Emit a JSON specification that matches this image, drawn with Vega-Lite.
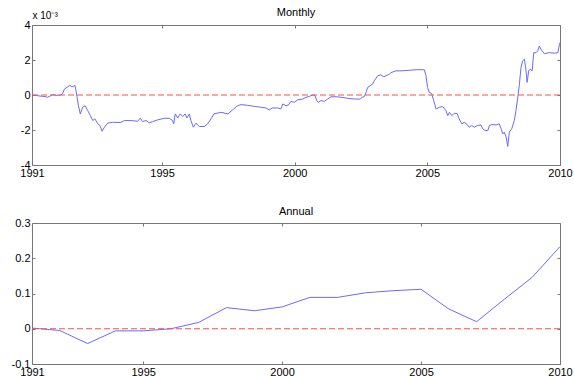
{
  "$schema": "https://vega.github.io/schema/vega-lite/v6.json",
  "background": "white",
  "padding": {"left": 1, "top": 6, "right": 1, "bottom": 0},
  "spacing": 26,
  "config": {
    "font": "Liberation Sans",
    "view": {"stroke": "#777777", "strokeWidth": 1},
    "axis": {"grid": false, "domain": false, "tickColor": "#777777", "tickSize": -3, "labelFont": "Liberation Sans", "labelFontSize": 11, "labelColor": "#000000", "labelPadding": 5, "labelFlush": false, "labelOverlap": false},
    "axisY": {"minExtent": 30, "maxExtent": 30},
    "title": {"font": "Liberation Sans", "fontSize": 11, "fontWeight": "normal", "color": "#000000"}
  },
  "datasets": {
    "monthly": [
      {"year": 1990.13, "value": 0}, {"year": 1990.31, "value": -0.04}, {"year": 1990.50, "value": -0.08}, {"year": 1990.63, "value": -0.1},
      {"year": 1990.69, "value": -0.13}, {"year": 1990.79, "value": -0.05}, {"year": 1990.88, "value": 0.02}, {"year": 1991.00, "value": -0.02},
      {"year": 1991.19, "value": 0}, {"year": 1991.26, "value": 0.1}, {"year": 1991.32, "value": 0.34}, {"year": 1991.45, "value": 0.47},
      {"year": 1991.53, "value": 0.55}, {"year": 1991.60, "value": 0.47}, {"year": 1991.67, "value": 0.5}, {"year": 1991.72, "value": 0.55},
      {"year": 1991.76, "value": 0.24}, {"year": 1991.80, "value": -0.13}, {"year": 1991.85, "value": -0.61}, {"year": 1991.92, "value": -1.08},
      {"year": 1992.01, "value": -0.7}, {"year": 1992.10, "value": -0.61}, {"year": 1992.20, "value": -0.89}, {"year": 1992.30, "value": -1.18},
      {"year": 1992.39, "value": -1.46}, {"year": 1992.47, "value": -1.36}, {"year": 1992.58, "value": -1.65}, {"year": 1992.66, "value": -1.74},
      {"year": 1992.74, "value": -2.07}, {"year": 1992.83, "value": -1.84}, {"year": 1992.95, "value": -1.61}, {"year": 1993.14, "value": -1.56},
      {"year": 1993.45, "value": -1.57}, {"year": 1993.58, "value": -1.46}, {"year": 1993.83, "value": -1.46}, {"year": 1994.08, "value": -1.5},
      {"year": 1994.18, "value": -1.33}, {"year": 1994.27, "value": -1.52}, {"year": 1994.40, "value": -1.46}, {"year": 1994.52, "value": -1.59},
      {"year": 1994.65, "value": -1.52}, {"year": 1994.84, "value": -1.42}, {"year": 1995.09, "value": -1.33}, {"year": 1995.27, "value": -1.33},
      {"year": 1995.40, "value": -1.46}, {"year": 1995.44, "value": -1.65}, {"year": 1995.50, "value": -1.08}, {"year": 1995.59, "value": -1.31},
      {"year": 1995.69, "value": -1.08}, {"year": 1995.78, "value": -1.23}, {"year": 1995.87, "value": -1.08}, {"year": 1995.94, "value": -1.31},
      {"year": 1996.03, "value": -1.08}, {"year": 1996.09, "value": -1.46}, {"year": 1996.18, "value": -1.84}, {"year": 1996.28, "value": -1.61},
      {"year": 1996.41, "value": -1.8}, {"year": 1996.59, "value": -1.8}, {"year": 1996.72, "value": -1.65}, {"year": 1996.85, "value": -1.36},
      {"year": 1996.96, "value": -1.08}, {"year": 1997.22, "value": -0.99}, {"year": 1997.49, "value": -1.08}, {"year": 1997.66, "value": -0.85},
      {"year": 1997.85, "value": -0.61}, {"year": 1997.98, "value": -0.55}, {"year": 1998.23, "value": -0.59}, {"year": 1998.48, "value": -0.65},
      {"year": 1998.73, "value": -0.7}, {"year": 1998.92, "value": -0.74}, {"year": 1999.04, "value": -0.85}, {"year": 1999.17, "value": -0.74},
      {"year": 1999.36, "value": -0.74}, {"year": 1999.48, "value": -0.8}, {"year": 1999.55, "value": -0.51}, {"year": 1999.67, "value": -0.61},
      {"year": 1999.76, "value": -0.58}, {"year": 1999.86, "value": -0.36}, {"year": 1999.99, "value": -0.42}, {"year": 2000.11, "value": -0.28},
      {"year": 2000.30, "value": -0.23}, {"year": 2000.43, "value": -0.13}, {"year": 2000.55, "value": -0.08}, {"year": 2000.68, "value": 0},
      {"year": 2000.77, "value": -0.04}, {"year": 2000.83, "value": -0.32}, {"year": 2000.89, "value": -0.42}, {"year": 2000.99, "value": -0.32},
      {"year": 2001.12, "value": -0.36}, {"year": 2001.24, "value": -0.23}, {"year": 2001.37, "value": -0.1}, {"year": 2001.56, "value": -0.1},
      {"year": 2001.75, "value": -0.13}, {"year": 2002.00, "value": -0.19}, {"year": 2002.25, "value": -0.23}, {"year": 2002.47, "value": -0.23},
      {"year": 2002.54, "value": -0.13}, {"year": 2002.62, "value": -0.1}, {"year": 2002.69, "value": 0.15}, {"year": 2002.75, "value": 0.43},
      {"year": 2002.85, "value": 0.53}, {"year": 2002.94, "value": 0.63}, {"year": 2003.00, "value": 0.81}, {"year": 2003.13, "value": 1.1},
      {"year": 2003.25, "value": 1.15}, {"year": 2003.36, "value": 1.04}, {"year": 2003.44, "value": 1.1}, {"year": 2003.57, "value": 1.19},
      {"year": 2003.63, "value": 1.28}, {"year": 2003.82, "value": 1.38}, {"year": 2004.01, "value": 1.38}, {"year": 2004.38, "value": 1.42},
      {"year": 2004.64, "value": 1.45}, {"year": 2004.89, "value": 1.44}, {"year": 2004.95, "value": 1.1}, {"year": 2005.01, "value": 0.43},
      {"year": 2005.07, "value": 0.15}, {"year": 2005.16, "value": 0.09}, {"year": 2005.24, "value": -0.32}, {"year": 2005.33, "value": -0.8},
      {"year": 2005.45, "value": -0.7}, {"year": 2005.58, "value": -0.66}, {"year": 2005.70, "value": -0.89}, {"year": 2005.77, "value": -1.18},
      {"year": 2005.83, "value": -0.99}, {"year": 2005.92, "value": -1.18}, {"year": 2006.02, "value": -1.05}, {"year": 2006.12, "value": -1.05},
      {"year": 2006.20, "value": -1.36}, {"year": 2006.30, "value": -1.65}, {"year": 2006.39, "value": -1.56}, {"year": 2006.50, "value": -1.69},
      {"year": 2006.58, "value": -1.84}, {"year": 2006.67, "value": -1.74}, {"year": 2006.77, "value": -1.84}, {"year": 2006.90, "value": -1.74},
      {"year": 2007.02, "value": -1.71}, {"year": 2007.09, "value": -1.93}, {"year": 2007.17, "value": -2.03}, {"year": 2007.28, "value": -2.03},
      {"year": 2007.34, "value": -1.74}, {"year": 2007.44, "value": -1.69}, {"year": 2007.59, "value": -1.71}, {"year": 2007.71, "value": -1.65},
      {"year": 2007.78, "value": -1.93}, {"year": 2007.84, "value": -2.22}, {"year": 2007.90, "value": -2.12}, {"year": 2007.97, "value": -2.41},
      {"year": 2008.03, "value": -2.94}, {"year": 2008.09, "value": -2.12}, {"year": 2008.18, "value": -1.93}, {"year": 2008.28, "value": -1.46},
      {"year": 2008.34, "value": -0.89}, {"year": 2008.41, "value": -0.13}, {"year": 2008.47, "value": 0.63}, {"year": 2008.53, "value": 1.57},
      {"year": 2008.59, "value": 1.95}, {"year": 2008.66, "value": 2.05}, {"year": 2008.72, "value": 1.38}, {"year": 2008.76, "value": 0.72},
      {"year": 2008.82, "value": 1.38}, {"year": 2008.88, "value": 1.48}, {"year": 2008.95, "value": 1.38}, {"year": 2009.01, "value": 2.42},
      {"year": 2009.10, "value": 2.42}, {"year": 2009.16, "value": 2.52}, {"year": 2009.22, "value": 2.8}, {"year": 2009.28, "value": 2.61},
      {"year": 2009.41, "value": 2.36}, {"year": 2009.60, "value": 2.42}, {"year": 2009.79, "value": 2.39}, {"year": 2009.92, "value": 2.42},
      {"year": 2009.98, "value": 2.9}, {"year": 2010.00, "value": 3.0}
    ],
    "annual": [
      {"year": 1991, "value": 0.002}, {"year": 1992, "value": -0.005}, {"year": 1993, "value": -0.042}, {"year": 1994, "value": -0.006},
      {"year": 1995, "value": -0.006}, {"year": 1996, "value": 0.0}, {"year": 1997, "value": 0.018}, {"year": 1998, "value": 0.06},
      {"year": 1999, "value": 0.051}, {"year": 2000, "value": 0.062}, {"year": 2001, "value": 0.089}, {"year": 2002, "value": 0.089},
      {"year": 2003, "value": 0.102}, {"year": 2004, "value": 0.108}, {"year": 2005, "value": 0.112}, {"year": 2006, "value": 0.056},
      {"year": 2007, "value": 0.02}, {"year": 2008, "value": 0.084}, {"year": 2009, "value": 0.146}, {"year": 2010, "value": 0.233}
    ]
  },
  "vconcat": [
    {
      "title": {"text": "Monthly", "offset": -8},
      "width": 528,
      "height": 140,
      "layer": [
        {
          "data": {"name": "monthly"},
          "mark": {"type": "line", "color": "#6a6aff", "strokeWidth": 1},
          "encoding": {
            "x": {"field": "year", "type": "quantitative", "scale": {"domain": [1990.1, 2010], "nice": false, "zero": false},
                  "axis": {"title": null, "values": [1990.1, 1995, 2000, 2005, 2010], "labelExpr": "datum.value < 1991 ? '1991' : '' + datum.value"}},
            "y": {"field": "value", "type": "quantitative", "scale": {"domain": [-4, 4], "nice": false},
                  "axis": {"values": [-4, -2, 0, 2, 4], "labelExpr": "'' + datum.value", "title": "x 10⁻³", "titleAngle": 0, "titleX": 0, "titleY": -5, "titleAlign": "left", "titleBaseline": "bottom", "titleFontWeight": "normal", "titleFontSize": 10, "titleFont": "Liberation Sans", "titleColor": "#000000"}}
          }
        },
        {
          "data": {"values": [{}]},
          "mark": {"type": "rule", "color": "#ff4d4d", "strokeDash": [6, 3], "strokeWidth": 1},
          "encoding": {
            "x": {"datum": 1990.1, "type": "quantitative", "axis": {"orient": "top", "labels": false, "title": null, "values": [1990.1, 1995, 2000, 2005, 2010]}},
            "x2": {"datum": 2010},
            "y": {"datum": 0, "type": "quantitative", "axis": {"orient": "right", "labels": false, "title": null, "values": [-4, -2, 0, 2, 4], "minExtent": 0, "maxExtent": 0}}
          }
        }
      ],
      "resolve": {"axis": {"x": "independent", "y": "independent"}}
    },
    {
      "title": {"text": "Annual", "offset": 0},
      "width": 528,
      "height": 141,
      "layer": [
        {
          "data": {"name": "annual"},
          "mark": {"type": "line", "color": "#6a6aff", "strokeWidth": 1},
          "encoding": {
            "x": {"field": "year", "type": "quantitative", "scale": {"domain": [1991, 2010], "nice": false, "zero": false},
                  "axis": {"title": null, "values": [1991, 1995, 2000, 2005, 2010], "labelExpr": "'' + datum.value"}},
            "y": {"field": "value", "type": "quantitative", "scale": {"domain": [-0.1, 0.3], "nice": false},
                  "axis": {"title": null, "values": [-0.1, 0, 0.1, 0.2, 0.3], "labelExpr": "'' + datum.value"}}
          }
        },
        {
          "data": {"values": [{}]},
          "mark": {"type": "rule", "color": "#ff4d4d", "strokeDash": [6, 3], "strokeWidth": 1},
          "encoding": {
            "x": {"datum": 1991, "type": "quantitative", "axis": {"orient": "top", "labels": false, "title": null, "values": [1995, 2000, 2005]}},
            "x2": {"datum": 2010},
            "y": {"datum": 0, "type": "quantitative", "axis": {"orient": "right", "labels": false, "title": null, "values": [-0.1, 0, 0.1, 0.2, 0.3], "minExtent": 0, "maxExtent": 0}}
          }
        }
      ],
      "resolve": {"axis": {"x": "independent", "y": "independent"}}
    }
  ]
}
